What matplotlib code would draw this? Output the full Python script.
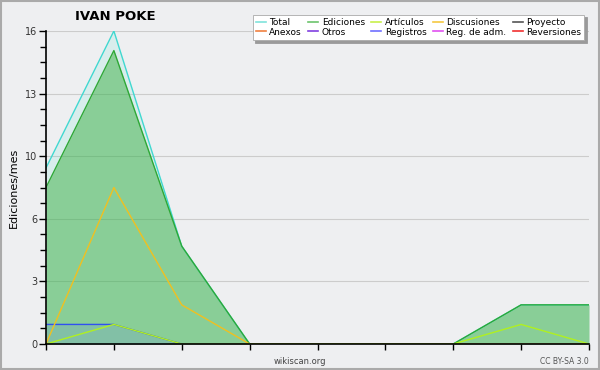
import numpy as np
import matplotlib
matplotlib.use("Agg")
import matplotlib.pyplot as plt
from matplotlib.ticker import FixedLocator, MultipleLocator

# monthly edits, one point per month
months = list(range(9))
total = [9, 16, 5, 0, 0, 0, 0, 2, 2]
ediciones = [8, 15, 5, 0, 0, 0, 0, 2, 2]
discusiones = [0, 8, 2, 0, 0, 0, 0, 0, 0]
articulos = [0, 1, 0, 0, 0, 0, 0, 1, 0]
registros = [1, 1, 0, 0, 0, 0, 0, 0, 0]

legend_names = ["Total", "Ediciones", "Artículos", "Discusiones", "Proyecto",
                "Anexos", "Otros", "Registros", "Reg. de adm.", "Reversiones"]
legend_colors = ["#7fe3dc", "#6cc46c", "#c8f04a", "#f5c842", "#555555",
                 "#f08040", "#8040e0", "#7070ff", "#e050f0", "#f03030"]

ymax = 16
yticks = np.linspace(0, ymax, 6)

bg = "#eeeff1"
fig = plt.figure(figsize=(6, 3.7), dpi=100, facecolor=bg)
ax = fig.add_axes([46/600, 26/370, 543/600, 313/370])
ax.set_facecolor(bg)

# fills + lines
ax.fill_between(months, total, color="#40e0d0", alpha=0.12, lw=0)
ax.plot(months, total, color="#40d8d0", lw=1)
ax.fill_between(months, ediciones, color="#3cb043", alpha=0.5, lw=0)
ax.plot(months, ediciones, color="#2ea836", lw=1)
ax.fill_between(months, registros, color="#6070ff", alpha=0.15, lw=0)
ax.plot(months, registros, color="#3050f0", lw=1)
ax.plot(months, discusiones, color="#f0c020", lw=1)
ax.plot(months, articulos, color="#b0f020", lw=1)

ax.set_xlim(0, 8)
ax.set_ylim(0, ymax)
ax.set_xticks(months)
ax.set_xticklabels([])
ax.yaxis.set_major_locator(FixedLocator(yticks))
ax.set_yticklabels([f"{v:.0f}" for v in yticks], fontsize=7, color="#333333")
ax.yaxis.set_minor_locator(MultipleLocator(0.8))
ax.tick_params(axis="y", which="major", length=5, width=1, direction="out", pad=1)
ax.tick_params(axis="y", which="minor", length=4, width=1, direction="out")
ax.tick_params(axis="x", which="major", length=4, width=1, direction="out")
ax.grid(axis="y", color="#cccccc", lw=0.8)
ax.set_axisbelow(True)
for s in ["top", "right"]:
    ax.spines[s].set_visible(False)
for s in ["left", "bottom"]:
    ax.spines[s].set_linewidth(1.2)

ax.set_ylabel("Ediciones/mes", fontsize=8, labelpad=5)
fig.text(115/600, 1 - 17/370, "IVAN POKE", fontsize=9.5, fontweight="bold",
         ha="center", va="center")
fig.text(300/600, 1 - 361/370, "wikiscan.org", fontsize=6, color="#444444",
         ha="center", va="center")
fig.text(589/600, 1 - 361/370, "CC BY-SA 3.0", fontsize=5.5, color="#555555",
         ha="right", va="center")

handles = [plt.Line2D([], [], color=c, lw=1.2) for c in legend_colors]
order = [0, 5, 1, 6, 2, 7, 3, 8, 4, 9]
leg = fig.legend([handles[i] for i in order], [legend_names[i] for i in order],
                 ncol=5, loc="upper right", bbox_to_anchor=(589/600, 1 - 10/370),
                 fontsize=6.5, frameon=True, fancybox=False,
                 shadow={"color": "#9a9a9a", "alpha": 1.0},
                 handlelength=1.1, handletextpad=0.4, columnspacing=0.7,
                 labelspacing=0.1, borderpad=0.35)
leg.get_frame().set_edgecolor("#aaaaaa")
leg.get_frame().set_linewidth(0.6)

# outer border
fig.patches.append(plt.Rectangle((0.001, 0.002), 0.997, 0.996, transform=fig.transFigure,
                                 fill=False, edgecolor="#aaaaaa", lw=1.5))

fig.savefig("out.png", dpi=100, facecolor=bg)
